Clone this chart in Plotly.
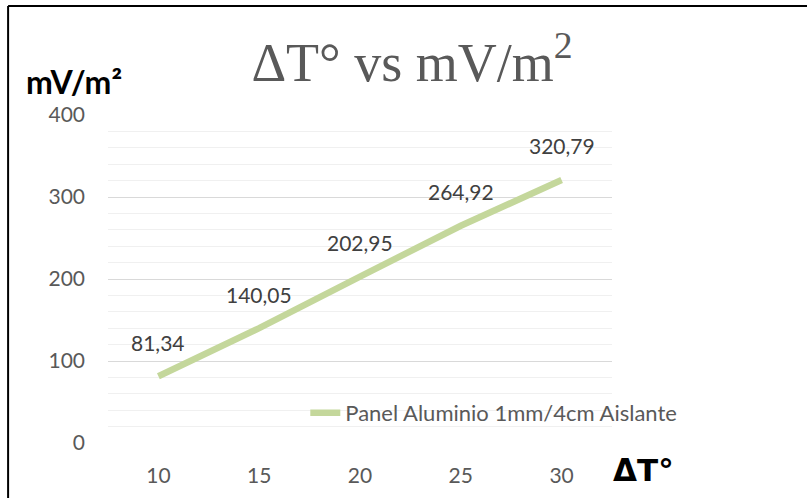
import plotly.graph_objects as go

# ---- data ----
delta_t = ["10", "15", "20", "25", "30"]
mv_m2 = [81.34, 140.05, 202.95, 264.92, 320.79]
series_name = "Panel Aluminio 1mm/4cm Aislante"
y_ticks = [0, 100, 200, 300, 400]

W, H = 807, 498
L, R, T, B = 107.5, 612, 115, 442.7

def px_x(x):
    return (x - L) / (R - L)

def px_y(y):
    return (B - y) / (B - T)

fig = go.Figure()
fig.add_trace(go.Scatter(
    x=delta_t, y=mv_m2, mode="lines", name=series_name,
    line=dict(color="#c4d79b", width=6.5),
))

for i, yv in enumerate(mv_m2):
    fig.add_annotation(
        x=i, y=yv, xref="x", yref="y", showarrow=False, yshift=34,
        text=f"{yv:.2f}".replace(".", ","),
        font=dict(family="Lato", size=21, color="#404040"),
    )

# axis titles
fig.add_annotation(xref="paper", yref="paper", x=px_x(23), y=px_y(82),
                   xanchor="left", yanchor="middle", showarrow=False,
                   text="<b>mV/m²</b>", font=dict(family="Lato", size=32, color="#000000"))
fig.add_annotation(xref="paper", yref="paper", x=px_x(611), y=px_y(470),
                   xanchor="left", yanchor="middle", showarrow=False,
                   text="<b>ΔT°</b>", font=dict(family="DejaVu Sans", size=31, color="#000000"))

# frame lines (left and top)
fig.add_shape(type="line", xref="paper", yref="paper",
              x0=px_x(7.5), x1=px_x(7.5), y0=px_y(6), y1=px_y(520),
              line=dict(color="#000000", width=2))
fig.add_shape(type="line", xref="paper", yref="paper",
              x0=px_x(7.5), x1=px_x(830), y0=px_y(6), y1=px_y(6),
              line=dict(color="#000000", width=2))

fig.update_layout(
    width=W, height=H,
    margin=dict(l=L, r=W - R, t=T, b=H - B, pad=0),
    paper_bgcolor="white", plot_bgcolor="white",
    title=dict(text="ΔT° vs mV/m<sup>2</sup>", x=412 / W, xref="container", xanchor="center",
               y=1 - 62 / H, yref="container", yanchor="middle",
               font=dict(family="Liberation Serif", size=54, color="#595959")),
    showlegend=True,
    legend=dict(x=px_x(305), y=px_y(412.7), xanchor="left", yanchor="middle",
                bgcolor="rgba(0,0,0,0)", font=dict(family="Lato", size=22, color="#595959"),
                itemwidth=30),
    xaxis=dict(type="category", categoryorder="array", categoryarray=delta_t,
               range=[-0.5, 4.5], showgrid=False, zeroline=False, showline=False,
               ticks="", ticklabelstandoff=18,
               tickfont=dict(family="Lato", size=21, color="#595959")),
    yaxis=dict(range=[0, 400], tickvals=y_ticks, showgrid=True, gridcolor="#d9d9d9",
               gridwidth=1, zeroline=False, showline=False, ticks="",
               ticklabelstandoff=22,
               minor=dict(dtick=20, showgrid=True, gridcolor="#f0f0f0", gridwidth=1),
               tickfont=dict(family="Lato", size=21, color="#595959")),
)

fig.write_html("out.html", config={"displayModeBar": False},
               post_script="document.body.style.margin='0';document.body.style.overflow='hidden';")
